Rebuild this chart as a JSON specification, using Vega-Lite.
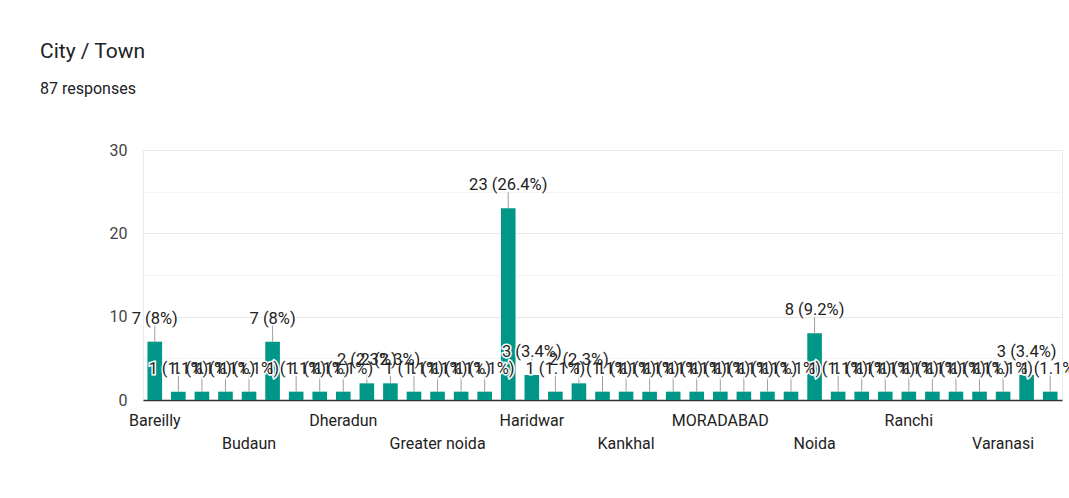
{
  "$schema": "https://vega.github.io/schema/vega-lite/v6.json",
  "width": 919,
  "height": 250,
  "autosize": "none",
  "padding": {"left": 143, "top": 150, "right": 7, "bottom": 98},
  "background": "white",
  "title": {
    "text": "City / Town",
    "subtitle": "87 responses",
    "anchor": "start",
    "frame": "group",
    "dx": -103,
    "offset": 45,
    "font": "Roboto",
    "fontSize": 21,
    "fontWeight": "normal",
    "color": "#202124",
    "subtitleFont": "Roboto",
    "subtitleFontSize": 16,
    "subtitleColor": "#202124",
    "subtitlePadding": 19
  },
  "config": {
    "view": {"stroke": "#ececec"},
    "font": "Roboto"
  },
  "data": {
    "values": [
      {"city": "Bareilly", "count": 7, "label": "7 (8%)"},
      {"city": "Bhopal", "count": 1, "label": "1 (1.1%)"},
      {"city": "Bijnor", "count": 1, "label": "1 (1.1%)"},
      {"city": "Bilaspur", "count": 1, "label": "1 (1.1%)"},
      {"city": "Budaun", "count": 1, "label": "1 (1.1%)"},
      {"city": "Bulandshahr", "count": 7, "label": "7 (8%)"},
      {"city": "Chandigarh", "count": 1, "label": "1 (1.1%)"},
      {"city": "Dehradun", "count": 1, "label": "1 (1.1%)"},
      {"city": "Dheradun", "count": 1, "label": "1 (1.1%)"},
      {"city": "Etawah", "count": 2, "label": "2 (2.3%)"},
      {"city": "Ghaziabad", "count": 2, "label": "2 (2.3%)"},
      {"city": "Gorakhpur", "count": 1, "label": "1 (1.1%)"},
      {"city": "Greater noida", "count": 1, "label": "1 (1.1%)"},
      {"city": "Gurgaon", "count": 1, "label": "1 (1.1%)"},
      {"city": "Gwalior", "count": 1, "label": "1 (1.1%)"},
      {"city": "Hardwar", "count": 23, "label": "23 (26.4%)"},
      {"city": "Haridwar", "count": 3, "label": "3 (3.4%)"},
      {"city": "Hisar", "count": 1, "label": "1 (1.1%)"},
      {"city": "Jhansi", "count": 2, "label": "2 (2.3%)"},
      {"city": "Jodhpur", "count": 1, "label": "1 (1.1%)"},
      {"city": "Kankhal", "count": 1, "label": "1 (1.1%)"},
      {"city": "Kanpur", "count": 1, "label": "1 (1.1%)"},
      {"city": "Kashipur", "count": 1, "label": "1 (1.1%)"},
      {"city": "Lucknow", "count": 1, "label": "1 (1.1%)"},
      {"city": "MORADABAD", "count": 1, "label": "1 (1.1%)"},
      {"city": "Meerut", "count": 1, "label": "1 (1.1%)"},
      {"city": "Muzaffarnagar", "count": 1, "label": "1 (1.1%)"},
      {"city": "Nainital", "count": 1, "label": "1 (1.1%)"},
      {"city": "Noida", "count": 8, "label": "8 (9.2%)"},
      {"city": "Patna", "count": 1, "label": "1 (1.1%)"},
      {"city": "Prayagraj", "count": 1, "label": "1 (1.1%)"},
      {"city": "Rampur", "count": 1, "label": "1 (1.1%)"},
      {"city": "Ranchi", "count": 1, "label": "1 (1.1%)"},
      {"city": "Rishikesh", "count": 1, "label": "1 (1.1%)"},
      {"city": "Roorkee", "count": 1, "label": "1 (1.1%)"},
      {"city": "Saharanpur", "count": 1, "label": "1 (1.1%)"},
      {"city": "Varanasi", "count": 1, "label": "1 (1.1%)"},
      {"city": "Vrindavan", "count": 3, "label": "3 (3.4%)"},
      {"city": "Yamuna Nagar", "count": 1, "label": "1 (1.1%)"}
    ]
  },
  "encoding": {
    "x": {
      "field": "city",
      "type": "nominal",
      "sort": null,
      "scale": {"paddingInner": 0.38, "paddingOuter": 0.19},
      "axis": {
        "title": null,
        "labelAngle": 0,
        "labelOverlap": false,
        "labelBound": false,
        "labelFlush": false,
        "ticks": false,
        "domainColor": "#333333",
        "domainWidth": 1.5,
        "labelFont": "Roboto",
        "labelFontSize": 16,
        "labelColor": "#222222",
        "labelPadding": 12,
        "labelBaseline": "top",
        "labelLineHeight": 23,
        "labelExpr": "indexof(['Bareilly','Dheradun','Haridwar','MORADABAD','Ranchi'], datum.value) >= 0 ? datum.label : (indexof(['Budaun','Greater noida','Kankhal','Noida','Varanasi'], datum.value) >= 0 ? ['', datum.label] : '')"
      }
    },
    "y": {
      "field": "count",
      "type": "quantitative",
      "scale": {"domain": [0, 30], "nice": false},
      "axis": {
        "title": null,
        "values": [0, 5, 10, 15, 20, 25, 30],
        "labelExpr": "datum.value % 10 === 0 ? datum.label : ''",
        "ticks": false,
        "domain": false,
        "gridColor": {"condition": {"test": "datum.value % 10 === 0", "value": "#e8e8e8"}, "value": "#f4f4f4"},
        "labelFont": "Roboto",
        "labelFontSize": 16,
        "labelColor": "#444444",
        "labelPadding": 16
      }
    }
  },
  "layer": [
    {
      "mark": {"type": "bar", "color": "#009688"}
    },
    {
      "mark": {"type": "rule", "color": "#9e9e9e", "strokeWidth": 1, "y2Offset": -16},
      "encoding": {"y2": {"field": "count"}}
    },
    {
      "mark": {"type": "text", "font": "Roboto", "fontSize": 16.5, "baseline": "alphabetic", "dy": -18, "stroke": "white", "strokeWidth": 3, "fill": "white"},
      "encoding": {"text": {"field": "label"}}
    },
    {
      "mark": {"type": "text", "font": "Roboto", "fontSize": 16.5, "baseline": "alphabetic", "dy": -18, "color": "#222222"},
      "encoding": {"text": {"field": "label"}}
    }
  ]
}
